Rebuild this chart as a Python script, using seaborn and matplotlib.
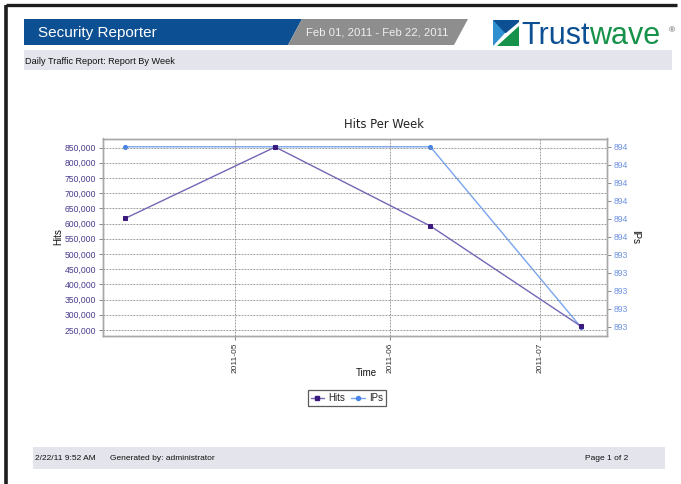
import numpy as np
import pandas as pd
import matplotlib
matplotlib.use("Agg")
import matplotlib.pyplot as plt
import matplotlib.dates as mdates
from matplotlib.patches import Polygon, Rectangle
from matplotlib.ticker import FuncFormatter, FixedLocator
from matplotlib.lines import Line2D
import seaborn as sns

# ---- data ----
week_dates = ["2011-04-09", "2011-05-09", "2011-06-09", "2011-07-09"]
hits = [617000, 852000, 592000, 263000]
ips = [894, 894, 894, 893]
hits_ticks = [250000, 300000, 350000, 400000, 450000, 500000, 550000,
              600000, 650000, 700000, 750000, 800000, 850000]
ips_ticks = [893.0, 893.1, 893.2, 893.3, 893.4, 893.5, 893.6, 893.7, 893.8, 893.9, 894.0]
month_ticks = ["2011-05-01", "2011-06-01", "2011-07-01"]

report_title = "Security Reporter"
date_range = "Feb 01, 2011 - Feb 22, 2011"
subtitle = "Daily Traffic Report: Report By Week"
footer_left = "2/22/11 9:52 AM"
footer_mid = "Generated by: administrator"
footer_right = "Page 1 of 2"

df = pd.DataFrame({"date": pd.to_datetime(week_dates), "hits": hits, "ips": ips})

sns.set_theme(style="white")
plt.rcParams["font.family"] = ["Liberation Sans", "DejaVu Sans"]

W, H = 681, 484
fig = plt.figure(figsize=(W / 100, H / 100), dpi=100)
fig.patch.set_facecolor("white")

# page decoration layer in pixel coordinates
bg = fig.add_axes([0, 0, 1, 1], zorder=-5)
bg.set_xlim(0, W)
bg.set_ylim(H, 0)
bg.axis("off")

BLUE = "#0c4f93"
GREEN = "#17924a"
BAND = "#e3e4ec"

# page frame
bg.plot([6, 6], [5, H], color="#1e1e1e", lw=2.6, solid_capstyle="butt")
bg.plot([6, 677], [5, 5], color="#1e1e1e", lw=2.4, solid_capstyle="butt")

# header banner
bg.add_patch(Polygon([(24, 19), (302, 19), (288, 45), (24, 45)], closed=True,
                     facecolor=BLUE, edgecolor="none"))
bg.add_patch(Polygon([(302, 19), (468, 19), (454, 45), (288, 45)], closed=True,
                     facecolor="#8e8e8e", edgecolor="none"))
bg.text(38, 32.5, report_title, color="white", fontsize=11, va="center", ha="left")
bg.text(306, 32.5, date_range, color="#f0f0f0", fontsize=8.2, va="center", ha="left")

# logo mark
bg.add_patch(Polygon([(493, 20), (519, 20), (519, 22), (506, 33), (493, 33)],
                     closed=True, facecolor=BLUE, edgecolor="none"))
bg.add_patch(Polygon([(493, 20), (505, 33), (493, 46)], closed=True,
                     facecolor="#2f8fd0", edgecolor="none"))
bg.add_patch(Polygon([(519, 26), (519, 46), (497, 46)], closed=True,
                     facecolor=GREEN, edgecolor="none"))
t1 = bg.text(521, 44, "Trust", color=BLUE, fontsize=22, va="baseline", ha="left")
fig.canvas.draw()
ext = t1.get_window_extent(renderer=fig.canvas.get_renderer())
bg.text(ext.x1, 44, "wave", color=GREEN, fontsize=22, va="baseline", ha="left")
bg.text(669, 31, "®", color="#555555", fontsize=6, va="center", ha="left")

# subtitle band
bg.add_patch(Rectangle((24, 50), 648, 20, facecolor=BAND, edgecolor="none"))
bg.text(25, 61, subtitle, color="#111111", fontsize=6.6, va="center", ha="left")

# footer band
bg.add_patch(Rectangle((33, 447), 632, 22, facecolor=BAND, edgecolor="none"))
bg.text(35, 458, footer_left, color="#111111", fontsize=6, va="center", ha="left")
bg.text(110, 458, footer_mid, color="#111111", fontsize=6, va="center", ha="left")
bg.text(628, 458, footer_right, color="#111111", fontsize=6, va="center", ha="right")

# ---- chart ----
ax_l, ax_r, ax_t, ax_b = 103, 607, 138.5, 336
ax = fig.add_axes([ax_l / W, 1 - ax_b / H, (ax_r - ax_l) / W, (ax_b - ax_t) / H])
ax2 = ax.twinx()

HITS_LINE = "#7565b5"
HITS_MARK = "#3b1a7e"
IPS_LINE = "#78a4ef"
IPS_MARK = "#4a86ea"

sns.lineplot(data=df, x="date", y="ips", ax=ax2, color=IPS_LINE, lw=1.0,
             marker="o", markersize=2.9, markerfacecolor=IPS_MARK,
             markeredgecolor=IPS_MARK, zorder=3)
sns.lineplot(data=df, x="date", y="hits", ax=ax, color=HITS_LINE, lw=1.0,
             marker="s", markersize=2.9, markerfacecolor=HITS_MARK,
             markeredgecolor=HITS_MARK, zorder=3)
# Hits series drawn above the IPs series; gridlines live on the Hits axes
ax.set_zorder(ax2.get_zorder() + 1)
ax.patch.set_visible(False)
ax2.patch.set_visible(True)
ax2.patch.set_facecolor("white")

ax.set_xlim(pd.Timestamp("2011-04-04 14:00"), pd.Timestamp("2011-07-14 07:00"))
ax.set_ylim(230000, 880000)
ax2.set_ylim(892.948, 894.046)

ax.xaxis.set_major_locator(FixedLocator(mdates.date2num(pd.to_datetime(month_ticks))))
ax.xaxis.set_major_formatter(mdates.DateFormatter("%Y-%m"))
ax.yaxis.set_major_locator(FixedLocator(hits_ticks))
ax.yaxis.set_major_formatter(FuncFormatter(lambda v, p: f"{int(round(v)):,}"))
ax2.yaxis.set_major_locator(FixedLocator(ips_ticks))
ax2.yaxis.set_major_formatter(FuncFormatter(lambda v, p: f"{int(np.floor(v + 0.5 + 1e-6))}"))

ax.grid(True, axis="both", color="#8c8c8c", linestyle=(0, (2.2, 1.4)), lw=0.6)
ax2.grid(False)

for a in (ax, ax2):
    for s in a.spines.values():
        s.set_color("#a8a8a8")
        s.set_linewidth(1.0)

ax.tick_params(axis="y", which="major", left=True, length=3, width=0.6, color="#777777",
               labelsize=6.2, labelcolor="#4b3a8e", pad=2)
ax.tick_params(axis="x", which="major", bottom=True, length=3, width=0.6, color="#777777",
               labelsize=6.0, labelcolor="#333333", pad=2, labelrotation=90)
ax2.tick_params(axis="y", which="major", right=True, length=3, width=0.6, color="#777777",
                labelsize=6.2, labelcolor="#6f93e2", pad=2)
ax.set_xlabel("")
ax.set_ylabel("")
ax2.set_ylabel("")

bg.text(384, 125, "Hits Per Week", fontsize=8.3, family="DejaVu Sans",
        color="#222222", ha="center", va="center")
bg.text(58, 237, "Hits", fontsize=7, color="#111111", rotation=90, ha="center", va="center")
bg.text(635, 237, "IPs", fontsize=7, color="#111111", rotation=270, ha="center", va="center")
bg.text(366, 373, "Time", fontsize=7, color="#111111", ha="center", va="center")

handles = [
    Line2D([], [], color=HITS_LINE, lw=1.0, marker="s", markersize=2.9,
           markerfacecolor=HITS_MARK, markeredgecolor=HITS_MARK),
    Line2D([], [], color=IPS_LINE, lw=1.0, marker="o", markersize=2.9,
           markerfacecolor=IPS_MARK, markeredgecolor=IPS_MARK),
]
leg = fig.legend(handles, ["Hits", "IPs"], loc="center",
                 bbox_to_anchor=(347 / W, 1 - 398 / H), ncol=2, fontsize=7,
                 frameon=True, fancybox=False, handlelength=1.4, handletextpad=0.45,
                 columnspacing=0.6, borderpad=0.3, borderaxespad=0)
leg.get_frame().set_edgecolor("#333333")
leg.get_frame().set_linewidth(0.9)

fig.savefig("out.png", dpi=100, facecolor="white")
